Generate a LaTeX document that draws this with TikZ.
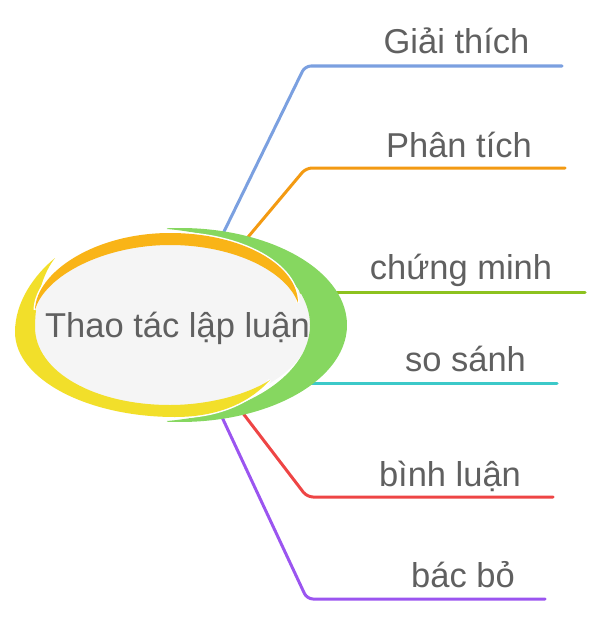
\documentclass[tikz,border=0pt]{standalone}
\usepackage{fontspec}
\setmainfont{Liberation Sans}
\definecolor{cblue}{RGB}{123,160,224}
\definecolor{corange}{RGB}{243,154,18}
\definecolor{clime}{RGB}{141,194,31}
\definecolor{ccyan}{RGB}{60,201,201}
\definecolor{cred}{RGB}{238,69,69}
\definecolor{cpurple}{RGB}{155,85,240}
\definecolor{egreen}{RGB}{134,215,96}
\definecolor{eyellow}{RGB}{242,223,42}
\definecolor{eorange}{RGB}{249,180,23}
\definecolor{egray}{RGB}{245,245,245}
\definecolor{txtgray}{RGB}{96,96,96}
\begin{document}
\begin{tikzpicture}[x=1pt,y=-1pt,
  lbl/.style={anchor=base, inner sep=0pt, text=txtgray, font=\fontsize{34.5}{40}\selectfont},
  branch/.style={line width=3pt, rounded corners=6pt, line cap=round},
  gap/.style={white, line width=3pt}]
\useasboundingbox (0,0) rectangle (601,626);
% branch coordinates
\coordinate (b1s) at (215,250); \coordinate (b1c) at (305,66);  \coordinate (b1e) at (562,66);
\coordinate (b2s) at (233,255); \coordinate (b2c) at (306,168); \coordinate (b2e) at (565,168);
\coordinate (b3s) at (300,292); \coordinate (b3e) at (585,292);
\coordinate (b4s) at (290,383); \coordinate (b4e) at (557,383);
\coordinate (b5s) at (229,395); \coordinate (b5c) at (307,497); \coordinate (b5e) at (553,497);
\coordinate (b6s) at (214,400); \coordinate (b6c) at (307,599); \coordinate (b6e) at (545,599);
\draw[branch, cblue] (b1s) -- (b1c) -- (b1e);
\draw[branch, corange] (b2s) -- (b2c) -- (b2e);
\draw[branch, clime] (b3s) -- (b3e);
\draw[branch, ccyan] (b4s) -- (b4e);
\draw[branch, cred] (b5s) -- (b5c) -- (b5e);
\draw[branch, cpurple] (b6s) -- (b6c) -- (b6e);
% central bubble
\fill[egray] (172,325) ellipse [x radius=139, y radius=82];
\fill[egreen] ([shift={(180,325)}]-94.5:167 and 97) arc[start angle=-94.5, end angle=94.5, x radius=167, y radius=97]
  -- ([shift={(143,325)}]81.7:167 and 97) arc[start angle=81.7, end angle=-81.7, x radius=167, y radius=97] -- cycle;
\draw[gap] (55,258) .. controls (33,276) and (15,303) .. (15,332) .. controls (15,379) and (87,417) .. (175,417) .. controls (222,417) and (252,400) .. (270,380);
\fill[eyellow] (55,258) .. controls (33,276) and (15,303) .. (15,332) .. controls (15,379) and (87,417) .. (175,417) .. controls (222,417) and (252,400) .. (270,380)
  .. controls (245,396) and (205,405) .. (170,405) .. controls (95,405) and (35,372) .. (35,327) .. controls (35,300) and (43,273) .. (55,258) -- cycle;
\draw[gap] (35,310) .. controls (36,272) and (95,233) .. (170,233) .. controls (242,233) and (298,265) .. (298,303);
\fill[eorange] (35,310) .. controls (36,272) and (95,233) .. (170,233) .. controls (242,233) and (298,265) .. (298,303)
  .. controls (287,272) and (235,245) .. (170,245) .. controls (105,245) and (45,275) .. (35,310) -- cycle;
% labels
\node[lbl] (center) at (177.5,337) {Thao tác lập luận};
\node[lbl] (n1) at (456.5,54) {Giải thích};
\node[lbl] (n2) at (459,157) {Phân tích};
\node[lbl] (n3) at (461,279) {chứng minh};
\node[lbl] (n4) at (465.5,371) {so sánh};
\node[lbl] (n5) at (450,486) {bình luận};
\node[lbl] (n6) at (463,587) {bác bỏ};
\end{tikzpicture}
\end{document}
